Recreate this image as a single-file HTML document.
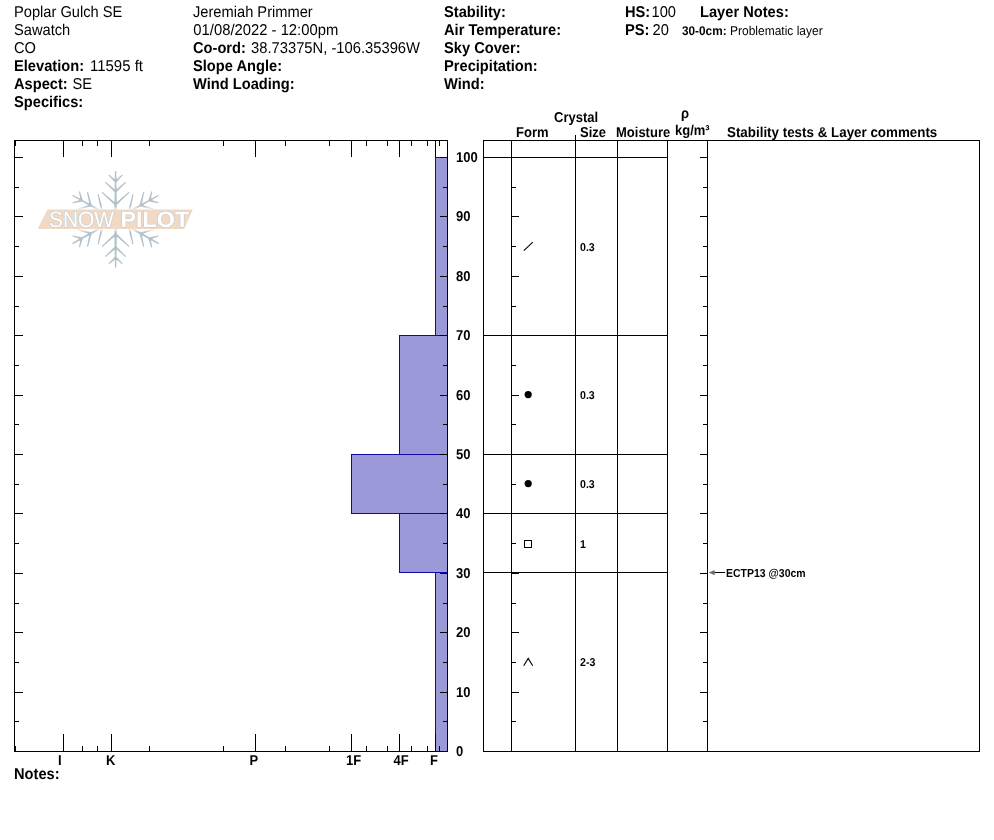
<!DOCTYPE html>
<html><head><meta charset="utf-8"><title>Snow Pilot - Poplar Gulch SE</title>
<style>
html,body{margin:0;padding:0;background:#fff;}
body{width:994px;height:840px;overflow:hidden;}
svg{display:block;}
text{font-family:"Liberation Sans",sans-serif;fill:#000;text-rendering:geometricPrecision;}
.b{font-weight:bold;}
.ln{shape-rendering:crispEdges;}
</style></head><body>
<svg width="994" height="840" viewBox="0 0 994 840">
<rect x="0" y="0" width="994" height="840" fill="#fff"/>
<text transform="translate(14,17) scale(1,1.07)" font-size="14.67">Poplar Gulch SE</text>
<text transform="translate(14,35) scale(1,1.07)" font-size="14.67">Sawatch</text>
<text transform="translate(14,53) scale(1,1.07)" font-size="14.67">CO</text>
<text transform="translate(14,71) scale(1,1.07)" font-size="14.67" class="b">Elevation:</text>
<text transform="translate(90,71) scale(1,1.07)" font-size="14.67" textLength="53" lengthAdjust="spacingAndGlyphs">11595 ft</text>
<text transform="translate(14,89) scale(1,1.07)" font-size="14.67" class="b">Aspect:</text>
<text transform="translate(72.5,89) scale(1,1.07)" font-size="14.67">SE</text>
<text transform="translate(14,107) scale(1,1.07)" font-size="14.67" class="b">Specifics:</text>
<text transform="translate(193,17) scale(1,1.07)" font-size="14.67">Jeremiah Primmer</text>
<text transform="translate(193.3,35) scale(1,1.07)" font-size="14.67" textLength="145" lengthAdjust="spacingAndGlyphs">01/08/2022 - 12:00pm</text>
<text transform="translate(193,53) scale(1,1.07)" font-size="14.67" class="b">Co-ord:</text>
<text transform="translate(251,53) scale(1,1.07)" font-size="14.67" textLength="169" lengthAdjust="spacingAndGlyphs">38.73375N, -106.35396W</text>
<text transform="translate(193,71) scale(1,1.07)" font-size="14.67" class="b">Slope Angle:</text>
<text transform="translate(193,89) scale(1,1.07)" font-size="14.67" class="b">Wind Loading:</text>
<text transform="translate(444,17) scale(1,1.07)" font-size="14.67" class="b">Stability:</text>
<text transform="translate(444,35) scale(1,1.07)" font-size="14.67" class="b">Air Temperature:</text>
<text transform="translate(444,53) scale(1,1.07)" font-size="14.67" class="b">Sky Cover:</text>
<text transform="translate(444,71) scale(1,1.07)" font-size="14.67" class="b">Precipitation:</text>
<text transform="translate(444,89) scale(1,1.07)" font-size="14.67" class="b">Wind:</text>
<text transform="translate(625,17) scale(1,1.07)" font-size="14.67" class="b">HS:</text>
<text transform="translate(651.5,17) scale(1,1.07)" font-size="14.67">100</text>
<text transform="translate(625,35) scale(1,1.07)" font-size="14.67" class="b">PS:</text>
<text transform="translate(652.5,35) scale(1,1.07)" font-size="14.67">20</text>
<text transform="translate(700,17) scale(1,1.07)" font-size="14.67" class="b">Layer Notes:</text>
<text transform="translate(682,35) scale(1,1.07)" font-size="11.8" class="b">30-0cm:</text>
<text transform="translate(730,35) scale(1,1.07)" font-size="12">Problematic layer</text>
<g fill="#b3c1cb" stroke="none">
<g transform="translate(115.6,219.4) scale(1.03,1) rotate(0)"><polygon points="1.40,0.00 0.65,-47.90 0.00,-48.55 -0.65,-47.90 -1.40,0.00"/><polygon points="0.72,-15.67 -12.65,-27.39 -13.39,-27.37 -13.36,-26.63 -0.72,-14.13"/><polygon points="0.72,-14.13 13.36,-26.63 13.39,-27.37 12.65,-27.39 -0.72,-15.67"/><polygon points="0,-14.100000000000001 -1.9,-17.00 0,-17.90 1.9,-17.00"/><polygon points="0.72,-28.66 -9.38,-37.45 -10.12,-37.43 -10.10,-36.68 -0.72,-27.14"/><polygon points="0.72,-27.14 10.10,-36.68 10.12,-37.43 9.38,-37.45 -0.72,-28.66"/><polygon points="0,-27.1 -1.9,-30.00 0,-30.90 1.9,-30.00"/><polygon points="0.73,-38.76 -6.03,-44.53 -6.77,-44.52 -6.76,-43.78 -0.73,-37.24"/><polygon points="0.73,-37.24 6.76,-43.78 6.77,-44.52 6.03,-44.53 -0.73,-38.76"/><polygon points="0,-37.199999999999996 -1.9,-40.10 0,-41.00 1.9,-40.10"/></g>
<g transform="translate(115.6,219.4) scale(1.03,1) rotate(60)"><polygon points="1.40,0.00 0.65,-47.90 0.00,-48.55 -0.65,-47.90 -1.40,0.00"/><polygon points="0.72,-15.67 -12.65,-27.39 -13.39,-27.37 -13.36,-26.63 -0.72,-14.13"/><polygon points="0.72,-14.13 13.36,-26.63 13.39,-27.37 12.65,-27.39 -0.72,-15.67"/><polygon points="0,-14.100000000000001 -1.9,-17.00 0,-17.90 1.9,-17.00"/><polygon points="0.72,-28.66 -9.38,-37.45 -10.12,-37.43 -10.10,-36.68 -0.72,-27.14"/><polygon points="0.72,-27.14 10.10,-36.68 10.12,-37.43 9.38,-37.45 -0.72,-28.66"/><polygon points="0,-27.1 -1.9,-30.00 0,-30.90 1.9,-30.00"/><polygon points="0.73,-38.76 -6.03,-44.53 -6.77,-44.52 -6.76,-43.78 -0.73,-37.24"/><polygon points="0.73,-37.24 6.76,-43.78 6.77,-44.52 6.03,-44.53 -0.73,-38.76"/><polygon points="0,-37.199999999999996 -1.9,-40.10 0,-41.00 1.9,-40.10"/></g>
<g transform="translate(115.6,219.4) scale(1.03,1) rotate(120)"><polygon points="1.40,0.00 0.65,-47.90 0.00,-48.55 -0.65,-47.90 -1.40,0.00"/><polygon points="0.72,-15.67 -12.65,-27.39 -13.39,-27.37 -13.36,-26.63 -0.72,-14.13"/><polygon points="0.72,-14.13 13.36,-26.63 13.39,-27.37 12.65,-27.39 -0.72,-15.67"/><polygon points="0,-14.100000000000001 -1.9,-17.00 0,-17.90 1.9,-17.00"/><polygon points="0.72,-28.66 -9.38,-37.45 -10.12,-37.43 -10.10,-36.68 -0.72,-27.14"/><polygon points="0.72,-27.14 10.10,-36.68 10.12,-37.43 9.38,-37.45 -0.72,-28.66"/><polygon points="0,-27.1 -1.9,-30.00 0,-30.90 1.9,-30.00"/><polygon points="0.73,-38.76 -6.03,-44.53 -6.77,-44.52 -6.76,-43.78 -0.73,-37.24"/><polygon points="0.73,-37.24 6.76,-43.78 6.77,-44.52 6.03,-44.53 -0.73,-38.76"/><polygon points="0,-37.199999999999996 -1.9,-40.10 0,-41.00 1.9,-40.10"/></g>
<g transform="translate(115.6,219.4) scale(1.03,1) rotate(180)"><polygon points="1.40,0.00 0.65,-47.90 0.00,-48.55 -0.65,-47.90 -1.40,0.00"/><polygon points="0.72,-15.67 -12.65,-27.39 -13.39,-27.37 -13.36,-26.63 -0.72,-14.13"/><polygon points="0.72,-14.13 13.36,-26.63 13.39,-27.37 12.65,-27.39 -0.72,-15.67"/><polygon points="0,-14.100000000000001 -1.9,-17.00 0,-17.90 1.9,-17.00"/><polygon points="0.72,-28.66 -9.38,-37.45 -10.12,-37.43 -10.10,-36.68 -0.72,-27.14"/><polygon points="0.72,-27.14 10.10,-36.68 10.12,-37.43 9.38,-37.45 -0.72,-28.66"/><polygon points="0,-27.1 -1.9,-30.00 0,-30.90 1.9,-30.00"/><polygon points="0.73,-38.76 -6.03,-44.53 -6.77,-44.52 -6.76,-43.78 -0.73,-37.24"/><polygon points="0.73,-37.24 6.76,-43.78 6.77,-44.52 6.03,-44.53 -0.73,-38.76"/><polygon points="0,-37.199999999999996 -1.9,-40.10 0,-41.00 1.9,-40.10"/></g>
<g transform="translate(115.6,219.4) scale(1.03,1) rotate(240)"><polygon points="1.40,0.00 0.65,-47.90 0.00,-48.55 -0.65,-47.90 -1.40,0.00"/><polygon points="0.72,-15.67 -12.65,-27.39 -13.39,-27.37 -13.36,-26.63 -0.72,-14.13"/><polygon points="0.72,-14.13 13.36,-26.63 13.39,-27.37 12.65,-27.39 -0.72,-15.67"/><polygon points="0,-14.100000000000001 -1.9,-17.00 0,-17.90 1.9,-17.00"/><polygon points="0.72,-28.66 -9.38,-37.45 -10.12,-37.43 -10.10,-36.68 -0.72,-27.14"/><polygon points="0.72,-27.14 10.10,-36.68 10.12,-37.43 9.38,-37.45 -0.72,-28.66"/><polygon points="0,-27.1 -1.9,-30.00 0,-30.90 1.9,-30.00"/><polygon points="0.73,-38.76 -6.03,-44.53 -6.77,-44.52 -6.76,-43.78 -0.73,-37.24"/><polygon points="0.73,-37.24 6.76,-43.78 6.77,-44.52 6.03,-44.53 -0.73,-38.76"/><polygon points="0,-37.199999999999996 -1.9,-40.10 0,-41.00 1.9,-40.10"/></g>
<g transform="translate(115.6,219.4) scale(1.03,1) rotate(300)"><polygon points="1.40,0.00 0.65,-47.90 0.00,-48.55 -0.65,-47.90 -1.40,0.00"/><polygon points="0.72,-15.67 -12.65,-27.39 -13.39,-27.37 -13.36,-26.63 -0.72,-14.13"/><polygon points="0.72,-14.13 13.36,-26.63 13.39,-27.37 12.65,-27.39 -0.72,-15.67"/><polygon points="0,-14.100000000000001 -1.9,-17.00 0,-17.90 1.9,-17.00"/><polygon points="0.72,-28.66 -9.38,-37.45 -10.12,-37.43 -10.10,-36.68 -0.72,-27.14"/><polygon points="0.72,-27.14 10.10,-36.68 10.12,-37.43 9.38,-37.45 -0.72,-28.66"/><polygon points="0,-27.1 -1.9,-30.00 0,-30.90 1.9,-30.00"/><polygon points="0.73,-38.76 -6.03,-44.53 -6.77,-44.52 -6.76,-43.78 -0.73,-37.24"/><polygon points="0.73,-37.24 6.76,-43.78 6.77,-44.52 6.03,-44.53 -0.73,-38.76"/><polygon points="0,-37.199999999999996 -1.9,-40.10 0,-41.00 1.9,-40.10"/></g>
</g>
<defs><filter id="halo" x="-10%" y="-40%" width="120%" height="180%"><feGaussianBlur stdDeviation="1.3"/></filter></defs>
<polygon points="46.5,207.5 195.5,207.5 185.5,231 34.8,231" fill="#fff" opacity="0.75" filter="url(#halo)"/>
<polygon points="47.5,209.5 192.8,209.5 184.2,229 37.6,229" fill="#f1d9c3"/>
<g fill="#fff" stroke="#c2cdd6" stroke-width="1.3" paint-order="stroke" stroke-linejoin="round">
<text x="49" y="227.4" font-size="22.3" textLength="65" lengthAdjust="spacingAndGlyphs" style="fill:#fff">SNOW</text>
<text x="120.6" y="227.4" font-size="22.3" class="b" textLength="68.5" lengthAdjust="spacingAndGlyphs" style="fill:#fff">PILOT</text>
</g>
<rect class="ln" x="435" y="157" width="12" height="179" fill="#1008a8"/>
<rect class="ln" x="436" y="158" width="11" height="177" fill="#9b99d7"/>
<rect class="ln" x="399" y="335" width="48" height="120" fill="#1008a8"/>
<rect class="ln" x="400" y="336" width="47" height="118" fill="#9b99d7"/>
<rect class="ln" x="351" y="454" width="96" height="60" fill="#1008a8"/>
<rect class="ln" x="352" y="455" width="95" height="58" fill="#9b99d7"/>
<rect class="ln" x="399" y="513" width="48" height="60" fill="#1008a8"/>
<rect class="ln" x="400" y="514" width="47" height="58" fill="#9b99d7"/>
<rect class="ln" x="435" y="572" width="12" height="180" fill="#1008a8"/>
<rect class="ln" x="436" y="573" width="11" height="178" fill="#9b99d7"/>
<rect class="ln" x="14" y="140" width="434" height="1" fill="#000"/>
<rect class="ln" x="14" y="751" width="434" height="1" fill="#000"/>
<rect class="ln" x="14" y="140" width="1" height="612" fill="#000"/>
<rect class="ln" x="447" y="140" width="1" height="612" fill="#000"/>
<rect class="ln" x="63" y="141" width="1" height="16" fill="#000"/>
<rect class="ln" x="63" y="734" width="1" height="17" fill="#000"/>
<rect class="ln" x="111" y="141" width="1" height="16" fill="#000"/>
<rect class="ln" x="111" y="734" width="1" height="17" fill="#000"/>
<rect class="ln" x="255" y="141" width="1" height="16" fill="#000"/>
<rect class="ln" x="255" y="734" width="1" height="17" fill="#000"/>
<rect class="ln" x="351" y="141" width="1" height="16" fill="#000"/>
<rect class="ln" x="351" y="734" width="1" height="17" fill="#000"/>
<rect class="ln" x="399" y="141" width="1" height="16" fill="#000"/>
<rect class="ln" x="399" y="734" width="1" height="17" fill="#000"/>
<rect class="ln" x="435" y="141" width="1" height="16" fill="#000"/>
<rect class="ln" x="435" y="734" width="1" height="17" fill="#000"/>
<rect class="ln" x="15" y="141" width="1" height="5" fill="#000"/>
<rect class="ln" x="15" y="746" width="1" height="5" fill="#000"/>
<rect class="ln" x="82" y="141" width="1" height="5" fill="#000"/>
<rect class="ln" x="82" y="746" width="1" height="5" fill="#000"/>
<rect class="ln" x="97" y="141" width="1" height="5" fill="#000"/>
<rect class="ln" x="97" y="746" width="1" height="5" fill="#000"/>
<rect class="ln" x="149" y="141" width="1" height="5" fill="#000"/>
<rect class="ln" x="149" y="746" width="1" height="5" fill="#000"/>
<rect class="ln" x="223" y="141" width="1" height="5" fill="#000"/>
<rect class="ln" x="223" y="746" width="1" height="5" fill="#000"/>
<rect class="ln" x="285" y="141" width="1" height="5" fill="#000"/>
<rect class="ln" x="285" y="746" width="1" height="5" fill="#000"/>
<rect class="ln" x="329" y="141" width="1" height="5" fill="#000"/>
<rect class="ln" x="329" y="746" width="1" height="5" fill="#000"/>
<rect class="ln" x="366" y="141" width="1" height="5" fill="#000"/>
<rect class="ln" x="366" y="746" width="1" height="5" fill="#000"/>
<rect class="ln" x="387" y="141" width="1" height="5" fill="#000"/>
<rect class="ln" x="387" y="746" width="1" height="5" fill="#000"/>
<rect class="ln" x="411" y="141" width="1" height="5" fill="#000"/>
<rect class="ln" x="411" y="746" width="1" height="5" fill="#000"/>
<rect class="ln" x="427" y="141" width="1" height="5" fill="#000"/>
<rect class="ln" x="427" y="746" width="1" height="5" fill="#000"/>
<rect class="ln" x="439" y="141" width="1" height="5" fill="#000"/>
<rect class="ln" x="439" y="746" width="1" height="5" fill="#000"/>
<rect class="ln" x="15" y="721" width="4" height="1" fill="#000"/>
<rect class="ln" x="443" y="721" width="4" height="1" fill="#000"/>
<rect class="ln" x="15" y="692" width="8" height="1" fill="#000"/>
<rect class="ln" x="440" y="692" width="7" height="1" fill="#000"/>
<rect class="ln" x="15" y="662" width="4" height="1" fill="#000"/>
<rect class="ln" x="443" y="662" width="4" height="1" fill="#000"/>
<rect class="ln" x="15" y="632" width="8" height="1" fill="#000"/>
<rect class="ln" x="440" y="632" width="7" height="1" fill="#000"/>
<rect class="ln" x="15" y="603" width="4" height="1" fill="#000"/>
<rect class="ln" x="443" y="603" width="4" height="1" fill="#000"/>
<rect class="ln" x="15" y="573" width="8" height="1" fill="#000"/>
<rect class="ln" x="440" y="573" width="7" height="1" fill="#000"/>
<rect class="ln" x="15" y="543" width="4" height="1" fill="#000"/>
<rect class="ln" x="443" y="543" width="4" height="1" fill="#000"/>
<rect class="ln" x="15" y="513" width="8" height="1" fill="#000"/>
<rect class="ln" x="440" y="513" width="7" height="1" fill="#000"/>
<rect class="ln" x="15" y="484" width="4" height="1" fill="#000"/>
<rect class="ln" x="443" y="484" width="4" height="1" fill="#000"/>
<rect class="ln" x="15" y="454" width="8" height="1" fill="#000"/>
<rect class="ln" x="440" y="454" width="7" height="1" fill="#000"/>
<rect class="ln" x="15" y="424" width="4" height="1" fill="#000"/>
<rect class="ln" x="443" y="424" width="4" height="1" fill="#000"/>
<rect class="ln" x="15" y="395" width="8" height="1" fill="#000"/>
<rect class="ln" x="440" y="395" width="7" height="1" fill="#000"/>
<rect class="ln" x="15" y="365" width="4" height="1" fill="#000"/>
<rect class="ln" x="443" y="365" width="4" height="1" fill="#000"/>
<rect class="ln" x="15" y="335" width="8" height="1" fill="#000"/>
<rect class="ln" x="440" y="335" width="7" height="1" fill="#000"/>
<rect class="ln" x="15" y="306" width="4" height="1" fill="#000"/>
<rect class="ln" x="443" y="306" width="4" height="1" fill="#000"/>
<rect class="ln" x="15" y="276" width="8" height="1" fill="#000"/>
<rect class="ln" x="440" y="276" width="7" height="1" fill="#000"/>
<rect class="ln" x="15" y="246" width="4" height="1" fill="#000"/>
<rect class="ln" x="443" y="246" width="4" height="1" fill="#000"/>
<rect class="ln" x="15" y="216" width="8" height="1" fill="#000"/>
<rect class="ln" x="440" y="216" width="7" height="1" fill="#000"/>
<rect class="ln" x="15" y="187" width="4" height="1" fill="#000"/>
<rect class="ln" x="443" y="187" width="4" height="1" fill="#000"/>
<rect class="ln" x="15" y="157" width="8" height="1" fill="#000"/>
<rect class="ln" x="440" y="157" width="7" height="1" fill="#000"/>
<rect class="ln" x="441" y="157" width="6" height="1" fill="#000"/>
<text transform="translate(456,756) scale(1,1.1)" font-size="13" class="b">0</text>
<text transform="translate(456,697) scale(1,1.1)" font-size="13" class="b">10</text>
<text transform="translate(456,637) scale(1,1.1)" font-size="13" class="b">20</text>
<text transform="translate(456,578) scale(1,1.1)" font-size="13" class="b">30</text>
<text transform="translate(456,518) scale(1,1.1)" font-size="13" class="b">40</text>
<text transform="translate(456,459) scale(1,1.1)" font-size="13" class="b">50</text>
<text transform="translate(456,400) scale(1,1.1)" font-size="13" class="b">60</text>
<text transform="translate(456,340) scale(1,1.1)" font-size="13" class="b">70</text>
<text transform="translate(456,281) scale(1,1.1)" font-size="13" class="b">80</text>
<text transform="translate(456,221) scale(1,1.1)" font-size="13" class="b">90</text>
<text transform="translate(456,162) scale(1,1.1)" font-size="13" class="b">100</text>
<text transform="translate(58.0,765) scale(1,1.1)" font-size="13" class="b">I</text>
<text transform="translate(106.0,765) scale(1,1.1)" font-size="13" class="b">K</text>
<text transform="translate(249.6,765) scale(1,1.1)" font-size="13" class="b">P</text>
<text transform="translate(346.0,765) scale(1,1.1)" font-size="13" class="b">1F</text>
<text transform="translate(393.4,765) scale(1,1.1)" font-size="13" class="b">4F</text>
<text transform="translate(430.0,765) scale(1,1.1)" font-size="13" class="b">F</text>
<text transform="translate(14,778.6) scale(1,1.07)" font-size="14.67" class="b">Notes:</text>
<rect class="ln" x="483" y="140" width="497" height="1" fill="#000"/>
<rect class="ln" x="483" y="751" width="497" height="1" fill="#000"/>
<rect class="ln" x="483" y="140" width="1" height="612" fill="#000"/>
<rect class="ln" x="979" y="140" width="1" height="612" fill="#000"/>
<rect class="ln" x="511" y="140" width="1" height="612" fill="#000"/>
<rect class="ln" x="617" y="140" width="1" height="612" fill="#000"/>
<rect class="ln" x="667" y="140" width="1" height="612" fill="#000"/>
<rect class="ln" x="707" y="140" width="1" height="612" fill="#000"/>
<rect class="ln" x="575" y="135" width="1" height="617" fill="#000"/>
<rect class="ln" x="483" y="157" width="185" height="1" fill="#000"/>
<rect class="ln" x="483" y="335" width="185" height="1" fill="#000"/>
<rect class="ln" x="483" y="454" width="185" height="1" fill="#000"/>
<rect class="ln" x="483" y="513" width="185" height="1" fill="#000"/>
<rect class="ln" x="483" y="572" width="185" height="1" fill="#000"/>
<rect class="ln" x="512" y="721" width="4" height="1" fill="#000"/>
<rect class="ln" x="703" y="721" width="4" height="1" fill="#000"/>
<rect class="ln" x="512" y="692" width="7" height="1" fill="#000"/>
<rect class="ln" x="700" y="692" width="7" height="1" fill="#000"/>
<rect class="ln" x="512" y="662" width="4" height="1" fill="#000"/>
<rect class="ln" x="703" y="662" width="4" height="1" fill="#000"/>
<rect class="ln" x="512" y="632" width="7" height="1" fill="#000"/>
<rect class="ln" x="700" y="632" width="7" height="1" fill="#000"/>
<rect class="ln" x="512" y="603" width="4" height="1" fill="#000"/>
<rect class="ln" x="703" y="603" width="4" height="1" fill="#000"/>
<rect class="ln" x="512" y="573" width="7" height="1" fill="#000"/>
<rect class="ln" x="700" y="573" width="7" height="1" fill="#000"/>
<rect class="ln" x="512" y="543" width="4" height="1" fill="#000"/>
<rect class="ln" x="703" y="543" width="4" height="1" fill="#000"/>
<rect class="ln" x="512" y="513" width="7" height="1" fill="#000"/>
<rect class="ln" x="700" y="513" width="7" height="1" fill="#000"/>
<rect class="ln" x="512" y="484" width="4" height="1" fill="#000"/>
<rect class="ln" x="703" y="484" width="4" height="1" fill="#000"/>
<rect class="ln" x="512" y="454" width="7" height="1" fill="#000"/>
<rect class="ln" x="700" y="454" width="7" height="1" fill="#000"/>
<rect class="ln" x="512" y="424" width="4" height="1" fill="#000"/>
<rect class="ln" x="703" y="424" width="4" height="1" fill="#000"/>
<rect class="ln" x="512" y="395" width="7" height="1" fill="#000"/>
<rect class="ln" x="700" y="395" width="7" height="1" fill="#000"/>
<rect class="ln" x="512" y="365" width="4" height="1" fill="#000"/>
<rect class="ln" x="703" y="365" width="4" height="1" fill="#000"/>
<rect class="ln" x="512" y="335" width="7" height="1" fill="#000"/>
<rect class="ln" x="700" y="335" width="7" height="1" fill="#000"/>
<rect class="ln" x="512" y="306" width="4" height="1" fill="#000"/>
<rect class="ln" x="703" y="306" width="4" height="1" fill="#000"/>
<rect class="ln" x="512" y="276" width="7" height="1" fill="#000"/>
<rect class="ln" x="700" y="276" width="7" height="1" fill="#000"/>
<rect class="ln" x="512" y="246" width="4" height="1" fill="#000"/>
<rect class="ln" x="703" y="246" width="4" height="1" fill="#000"/>
<rect class="ln" x="512" y="216" width="7" height="1" fill="#000"/>
<rect class="ln" x="700" y="216" width="7" height="1" fill="#000"/>
<rect class="ln" x="512" y="187" width="4" height="1" fill="#000"/>
<rect class="ln" x="703" y="187" width="4" height="1" fill="#000"/>
<rect class="ln" x="512" y="157" width="7" height="1" fill="#000"/>
<rect class="ln" x="700" y="157" width="7" height="1" fill="#000"/>
<text transform="translate(554,122) scale(1,1.1)" font-size="13" class="b">Crystal</text>
<text transform="translate(516,137) scale(1,1.1)" font-size="13" class="b">Form</text>
<text transform="translate(580,137) scale(1,1.1)" font-size="13" class="b">Size</text>
<text transform="translate(616,137) scale(1,1.1)" font-size="13" class="b">Moisture</text>
<text transform="translate(681,118) scale(1,1.1)" font-size="13" class="b">ρ</text>
<text transform="translate(675,135) scale(1,1.1)" font-size="13" class="b">kg/m³</text>
<text transform="translate(727,137) scale(1,1.1)" font-size="13" class="b" textLength="210.3" lengthAdjust="spacingAndGlyphs">Stability tests &amp; Layer comments</text>
<text transform="translate(580,251) scale(1,1.07)" font-size="10.6" class="b">0.3</text>
<text transform="translate(580,399) scale(1,1.07)" font-size="10.6" class="b">0.3</text>
<text transform="translate(580,488) scale(1,1.07)" font-size="10.6" class="b">0.3</text>
<text transform="translate(580,548) scale(1,1.07)" font-size="10.6" class="b">1</text>
<text transform="translate(580,666) scale(1,1.07)" font-size="10.6" class="b">2-3</text>
<line x1="523.8" y1="250.6" x2="532.8" y2="242.2" stroke="#000" stroke-width="1.1"/>
<circle cx="528.2" cy="394.6" r="3.6" fill="#000"/>
<circle cx="528.2" cy="483.6" r="3.6" fill="#000"/>
<rect class="ln" x="524.5" y="540.5" width="7" height="7" fill="none" stroke="#000" stroke-width="1"/>
<path d="M523.7,665.8 L528.2,658.4 L532.7,665.8" fill="none" stroke="#000" stroke-width="1.1"/>
<rect class="ln" x="714" y="572" width="11" height="1" fill="#000"/>
<path d="M708.8,572.6 L714.6,570 L714.6,575.3 Z" fill="#707070"/>
<text transform="translate(726,576.8) scale(1,1.1)" font-size="10.5" class="b">ECTP13 @30cm</text>
</svg>
</body></html>
